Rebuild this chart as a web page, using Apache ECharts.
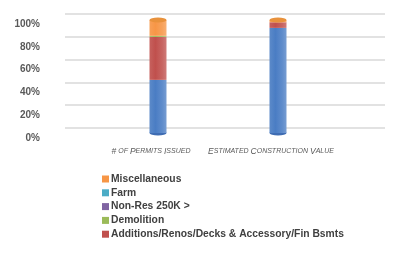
<!DOCTYPE html>
<html lang="en">
<head>
<meta charset="UTF-8">
<title>Permits</title>
<script src="https://cdn.jsdelivr.net/npm/echarts@6/dist/echarts.min.js"></script>
<style>
body{margin:0;padding:0;background:#fff;}
#main{width:393px;height:255px;}
</style>
</head>
<body>
<div id="main"></div>
<script>
// ---- data ----
var categories = ['# of Permits Issued', 'Estimated Construction Value'];
var yTicks = [0, 20, 40, 60, 80, 100];
var newRes   = [47, 93];
var additions = [38, 5];
var demolition = [1, 0];
var nonRes = [0, 0];
var farm = [0, 0];
var misc = [14, 2];
var totals = [100, 100];

var stackNames = ['New Residential', 'Additions/Renos/Decks & Accessory/Fin Bsmts', 'Demolition', 'Non-Res 250K >', 'Farm', 'Miscellaneous'];
var stackData = [newRes, additions, demolition, nonRes, farm, misc];
var colors = ['#4a7dc4', '#c0504d', '#9bbb59', '#8064a2', '#4bacc6', '#f79646'];
var legendOrder = ['Miscellaneous', 'Farm', 'Non-Res 250K >', 'Demolition', 'Additions/Renos/Decks & Accessory/Fin Bsmts'];

function cyl(c) {
    return new echarts.graphic.LinearGradient(0, 0, 1, 0, [
        {offset: 0, color: echarts.color.lift(c, 0.1)},
        {offset: 0.35, color: c},
        {offset: 0.75, color: echarts.color.lift(c, 0.12)},
        {offset: 1, color: echarts.color.lift(c, 0.25)}
    ]);
}

// small caps style label
function smallCaps(s) {
    return s.split(' ').map(function (w) {
        var f = w.charAt(0);
        if (f === f.toUpperCase() && f !== f.toLowerCase()) {
            return '{big|' + f + '}{sm|' + w.slice(1).toUpperCase() + '}';
        }
        if (f === '#') return '{big|#}';
        return '{sm|' + w.toUpperCase() + '}';
    }).join('{sm| }');
}

var myChart = echarts.init(document.getElementById('main'));

var series = [];
for (var i = 0; i < stackNames.length; i++) {
    series.push({
        name: stackNames[i],
        type: 'bar',
        stack: 'all',
        xAxisIndex: 1,
        yAxisIndex: 1,
        barWidth: 17,
        itemStyle: {color: cyl(colors[i])},
        data: stackData[i]
    });
}
// cylinder caps
series.push({
    type: 'pictorialBar',
    xAxisIndex: 1, yAxisIndex: 1,
    symbol: 'circle',
    symbolSize: [17, 5],
    symbolPosition: 'end',
    symbolOffset: [0, '-50%'],
    barGap: '-100%',
    z: 5,
    itemStyle: {color: '#e8923c'},
    data: totals
});
series.push({
    type: 'pictorialBar',
    xAxisIndex: 1, yAxisIndex: 1,
    symbol: 'circle',
    symbolSize: [17, 5],
    symbolPosition: 'start',
    symbolOffset: [0, '50%'],
    barGap: '-100%',
    z: 1,
    itemStyle: {color: '#3f6db3'},
    data: totals
});

var option = {
    animation: false,
    textStyle: {fontFamily: 'Liberation Sans'},
    color: colors,
    legend: {
        orient: 'vertical',
        left: 102,
        top: 174,
        padding: 0,
        itemWidth: 7,
        itemHeight: 7,
        itemGap: 3.8,
        icon: 'rect',
        data: legendOrder.map(function (n) {
            return {name: n, itemStyle: {color: colors[stackNames.indexOf(n)]}};
        }),
        textStyle: {fontSize: 10.3, fontWeight: 'bold', color: '#404040', padding: [0, 0, 0, -3]}
    },
    grid: [{
        left: 65, right: 8, top: 14, height: 114
    }, {
        left: 98, width: 240, top: 20, height: 113
    }],
    xAxis: [{
        gridIndex: 0, type: 'category', data: categories, show: false
    }, {
        gridIndex: 1, type: 'category', data: categories,
        axisLine: {show: false}, axisTick: {show: false},
        axisLabel: {
            interval: 0,
            margin: 14,
            padding: [0, 14, 0, 0],
            formatter: smallCaps,
            rich: {
                big: {fontSize: 8.5, fontStyle: 'italic', color: '#595959'},
                sm: {fontSize: 7, fontStyle: 'italic', color: '#595959'}
            }
        }
    }],
    yAxis: [{
        gridIndex: 0, type: 'value', min: 0, max: 100, interval: 20,
        axisLine: {show: false}, axisTick: {show: false},
        splitLine: {lineStyle: {color: '#d9d9d9', width: 1.5}},
        axisLabel: {
            margin: 25, formatter: '{value}%', fontSize: 10, fontWeight: 'bold',
            color: '#595959', verticalAlign: 'top', padding: [5, 0, 0, 0]
        }
    }, {
        gridIndex: 1, type: 'value', min: 0, max: 100, show: false
    }],
    series: series
};
myChart.setOption(option);
</script>
</body>
</html>
